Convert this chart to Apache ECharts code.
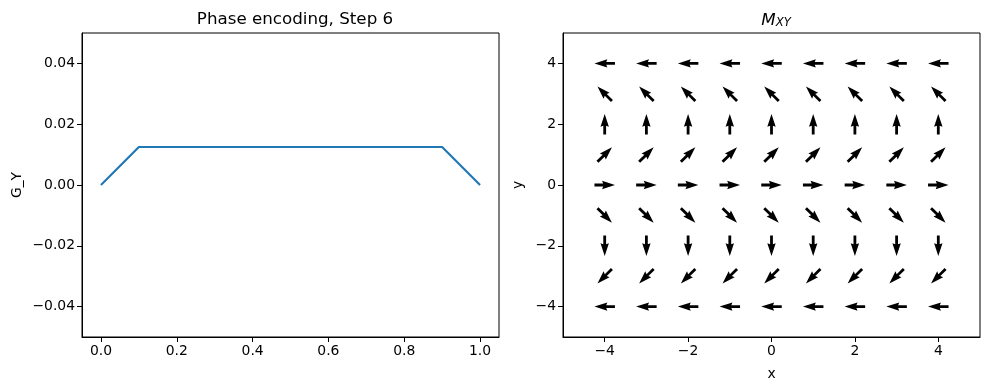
<!DOCTYPE html>
<html><head><meta charset="utf-8">
<script src="https://cdn.jsdelivr.net/npm/echarts@6/dist/echarts.min.js"></script>
<style>html,body{margin:0;padding:0;background:#fff}#c{width:989px;height:390px}</style>
</head><body><div id="c"></div>
<script>
// Left panel: gradient waveform
const times = [0.0, 0.1, 0.9, 1.0];
const gyValues = [0.0, 0.0125, 0.0125, 0.0];
const leftXTicks = [0.0, 0.2, 0.4, 0.6, 0.8, 1.0];
const leftYTicks = [-0.04, -0.02, 0.0, 0.02, 0.04];
// Right panel: quiver of M_XY
const gridX = [-4, -3, -2, -1, 0, 1, 2, 3, 4];
const gridY = [-4, -3, -2, -1, 0, 1, 2, 3, 4];
// arrow components per row (indexed like gridY)
const rowU = [-1, -0.7071, 0, 0.7071, 1, 0.7071, 0, -0.7071, -1];
const rowV = [0, -0.7071, -1, -0.7071, 0, 0.7071, 1, 0.7071, 0];
const rightTicks = [-4, -2, 0, 2, 4];

const quiverData = [];
gridY.forEach((y, j) => gridX.forEach(x => quiverData.push([x, y, rowU[j], rowV[j]])));

const FONT = 'DejaVu Sans';
const minus = s => String(s).replace('-', '\u2212');
function axisCommon(ticks, fmt) {
  return {
    axisLine: {show: true, onZero: false, lineStyle: {color: '#000', width: 1}},
    axisTick: {show: true, length: 5, inside: false, customValues: ticks, lineStyle: {color: '#000', width: 1}},
    axisLabel: {customValues: ticks, color: '#000', fontFamily: FONT, fontSize: 13.9, margin: 7, formatter: v => minus(fmt(v))},
    splitLine: {show: false}
  };
}

function renderArrow(params, api) {
  const x = api.value(0), y = api.value(1), u = api.value(2), v = api.value(3);
  const c = api.coord([x, y]);
  const m = Math.hypot(u, v) || 1;
  const dx = u / m, dy = -v / m;
  const L = 20.5, w = 2.8, hw = 3 * w, hl = 4.6 * w, hal = 4.2 * w;
  const loc = [[0, -w/2], [L-hal, -w/2], [L-hl, -hw/2], [L, 0], [L-hl, hw/2], [L-hal, w/2], [0, w/2]];
  const pts = loc.map(([a, p]) => {
    a -= L / 2;
    return [c[0] + a * dx - p * dy, c[1] + a * dy + p * dx];
  });
  return {type: 'polygon', shape: {points: pts}, style: {fill: '#000'}};
}

const chart = echarts.init(document.getElementById('c'), null, {renderer: 'canvas'});
chart.setOption({
  animation: false,
  backgroundColor: '#fff',
  title: [
    {text: 'Phase encoding, Step 6', left: 290, top: 6, textAlign: 'center',
     textStyle: {fontFamily: FONT, fontSize: 16.7, fontWeight: 'normal', color: '#000'}},
    {text: '{m|M}{s|XY}', left: 771, top: 6, textAlign: 'center',
     textStyle: {fontWeight: 'normal', rich: {
       m: {fontFamily: FONT, fontStyle: 'italic', fontWeight: 'normal', fontSize: 16.7, color: '#000', verticalAlign: 'bottom'},
       s: {fontFamily: FONT, fontStyle: 'italic', fontWeight: 'normal', fontSize: 11.7, color: '#000', padding: [6, 0, 0, 0], verticalAlign: 'bottom'}
     }}}
  ],
  grid: [
    {left: 82, top: 33, width: 417, height: 304, show: true, borderColor: '#000', borderWidth: 1, backgroundColor: 'transparent'},
    {left: 563, top: 33, width: 417, height: 304, show: true, borderColor: '#000', borderWidth: 1, backgroundColor: 'transparent'}
  ],
  xAxis: [
    Object.assign({type: 'value', gridIndex: 0, min: -0.05, max: 1.05}, axisCommon(leftXTicks, v => v.toFixed(1))),
    Object.assign({type: 'value', gridIndex: 1, min: -5, max: 5, name: 'x', nameLocation: 'middle', nameGap: 30,
      nameTextStyle: {fontFamily: FONT, fontSize: 13.9, color: '#000'}}, axisCommon(rightTicks, v => String(v)))
  ],
  yAxis: [
    Object.assign({type: 'value', gridIndex: 0, min: -0.05, max: 0.05, name: 'G_Y', nameLocation: 'middle', nameGap: 58,
      nameTextStyle: {fontFamily: FONT, fontSize: 13.9, color: '#000'}}, axisCommon(leftYTicks, v => v.toFixed(2))),
    Object.assign({type: 'value', gridIndex: 1, min: -5, max: 5, name: 'y', nameLocation: 'middle', nameGap: 38,
      nameTextStyle: {fontFamily: FONT, fontSize: 13.9, color: '#000'}}, axisCommon(rightTicks, v => String(v)))
  ],
  series: [
    {type: 'line', xAxisIndex: 0, yAxisIndex: 0, data: times.map((t, i) => [t, gyValues[i]]),
     showSymbol: false, lineStyle: {color: '#1f77b4', width: 2.1}, itemStyle: {color: '#1f77b4'}},
    {type: 'custom', xAxisIndex: 1, yAxisIndex: 1, data: quiverData, renderItem: renderArrow,
     encode: {x: 0, y: 1}}
  ]
});
</script></body></html>
